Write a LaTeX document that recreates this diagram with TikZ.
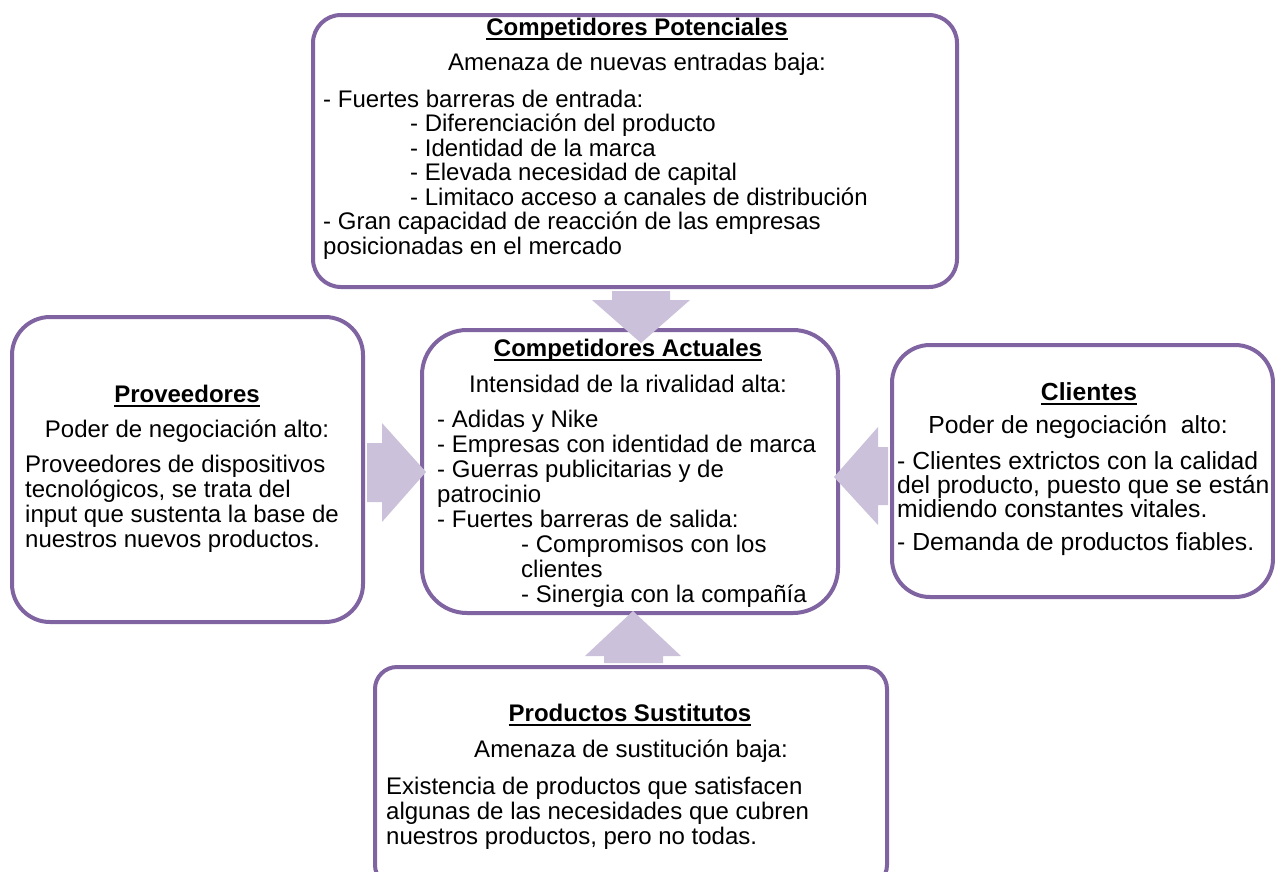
\documentclass[tikz,border=0pt]{standalone}
\usepackage{fontspec}
\setmainfont{Liberation Sans}
\usetikzlibrary{calc}
\definecolor{bord}{HTML}{8064A2}
\definecolor{arrfill}{HTML}{CCC1DA}
\newcommand\fs{\fontsize{24}{25}\selectfont}
\newcommand\fsc{\fontsize{24.7}{25}\selectfont}
\newcommand\ulbold[1]{\setbox0\hbox{\bfseries #1}\rlap{\rule[-5pt]{\wd0}{1.6pt}}\box0}
\newcommand\blines[3]{\parbox[t]{#1}{\raggedright\baselineskip=#2\lineskiplimit=-100pt\relax #3}}
\begin{document}
\begin{tikzpicture}[x=1pt,y=-1pt,font=\fs,
  box/.style={draw=bord,line width=4pt,fill=white,rectangle,inner sep=0pt},
  lbl/.style={inner sep=0pt,anchor=base},
  body/.style={inner sep=0pt,anchor=base west},
  barrow/.style={fill=arrfill}]
\useasboundingbox (0,0) rectangle (1275,871);
\fill[white] (0,0) rectangle (1275,871);

% boxes
\node[box,rounded corners=28pt,minimum width=644pt,minimum height=272pt] (pot) at (635,151) {};
\node[box,rounded corners=45pt,minimum width=416pt,minimum height=283pt] (act) at (630,471.5) {};
\node[box,rounded corners=38pt,minimum width=351pt,minimum height=305pt] (prov) at (187.5,469.5) {};
\node[box,rounded corners=38pt,minimum width=381pt,minimum height=252pt] (cli) at (1082.5,471) {};
\node[box,rounded corners=22pt,minimum width=512pt,minimum height=220pt] (sus) at (631,777) {};

% block arrows
\fill[barrow] ($(pot.south)+(-23,2)$) -- ($(pot.south)+(35,2)$) -- ($(pot.south)+(35,11)$)
  -- ($(pot.south)+(55,11)$) -- ($(act.north)+(11,15)$) -- ($(pot.south)+(-43,11)$)
  -- ($(pot.south)+(-23,11)$) -- cycle;
\fill[barrow] ($(sus.north)+(-27,-2)$) -- ($(sus.north)+(32,-2)$) -- ($(sus.north)+(32,-9)$)
  -- ($(sus.north)+(50,-9)$) -- ($(act.south)+(3,-4)$) -- ($(sus.north)+(-46,-9)$)
  -- ($(sus.north)+(-27,-9)$) -- cycle;
\fill[barrow] ($(prov.east)+(2,-26.5)$) -- ($(prov.east)+(17,-26.5)$) -- ($(prov.east)+(17,-46.5)$)
  -- ($(act.west)+(6,0.5)$) -- ($(prov.east)+(17,52.5)$) -- ($(prov.east)+(17,32.5)$)
  -- ($(prov.east)+(2,32.5)$) -- cycle;
\fill[barrow] ($(cli.west)+(-2,-24)$) -- ($(cli.west)+(-12,-24)$) -- ($(cli.west)+(-12,-44)$)
  -- ($(act.east)+(-6,5.5)$) -- ($(cli.west)+(-12,54)$) -- ($(cli.west)+(-12,34)$)
  -- ($(cli.west)+(-2,34)$) -- cycle;

% Competidores Potenciales
\node[lbl] (pot-t) at (637,35) {\ulbold{Competidores Potenciales}};
\node[lbl] (pot-s) at (637,70) {Amenaza de nuevas entradas baja:};
\node[body] (pot-b) at (323,107) {\blines{620pt}{24.5pt}{%
- Fuertes barreras de entrada:\\
\hspace*{87pt}- Diferenciación del producto\\
\hspace*{87pt}- Identidad de la marca\\
\hspace*{87pt}- Elevada necesidad de capital\\
\hspace*{87pt}- Limitaco acceso a canales de distribución\\
- Gran capacidad de reacción de las empresas\\
posicionadas en el mercado}};

% Competidores Actuales
\node[lbl] (act-t) at (628,356) {\ulbold{Competidores Actuales}};
\node[lbl] (act-s) at (628,392) {Intensidad de la rivalidad alta:};
\node[body] (act-b) at (437,427) {\blines{400pt}{25pt}{%
- Adidas y Nike\\
- Empresas con identidad de marca\\
- Guerras publicitarias y de\\
patrocinio\\
- Fuertes barreras de salida:\\
\hspace*{84pt}- Compromisos con los\\
\hspace*{84pt}clientes\\
\hspace*{84pt}- Sinergia con la compañía}};

% Proveedores
\node[lbl] (prov-t) at (187,402) {\ulbold{Proveedores}};
\node[lbl] (prov-s) at (187,437) {Poder de negociación alto:};
\node[body] (prov-b) at (25,472) {\blines{340pt}{25pt}{%
Proveedores de dispositivos\\
tecnológicos, se trata del\\
input que sustenta la base de\\
nuestros nuevos productos.}};

% Clientes
\node[lbl,font=\fsc] (cli-t) at (1089,400) {\ulbold{Clientes}};
\node[lbl,font=\fsc] (cli-s) at (1078,433) {Poder de negociación\ \ alto:};
\node[body,font=\fsc] (cli-b) at (897,469) {\blines{380pt}{24pt}{%
- Clientes extrictos con la calidad\\
del producto, puesto que se están\\
midiendo constantes vitales.\\[9pt]
- Demanda de productos fiables.}};

% Productos Sustitutos
\node[lbl] (sus-t) at (630,721) {\ulbold{Productos Sustitutos}};
\node[lbl] (sus-s) at (631,757) {Amenaza de sustitución baja:};
\node[body] (sus-b) at (386,794) {\blines{500pt}{25pt}{%
Existencia de productos que satisfacen\\
algunas de las necesidades que cubren\\
nuestros productos, pero no todas.}};
\end{tikzpicture}
\end{document}
